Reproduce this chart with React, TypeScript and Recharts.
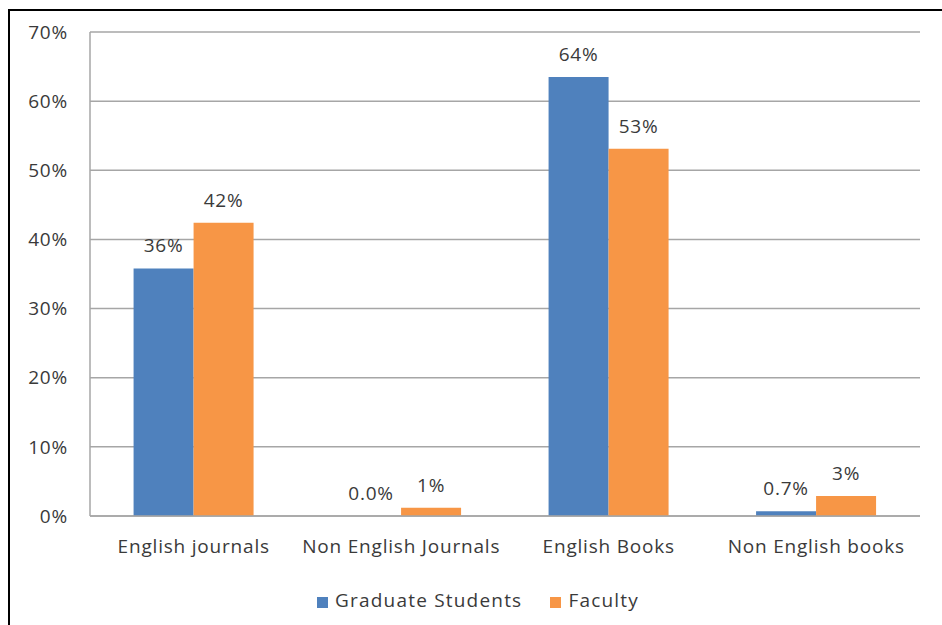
import React from 'react';
import { BarChart, Bar, XAxis, YAxis, CartesianGrid, Legend, LabelList } from 'recharts';

const categories = ['English journals', 'Non English Journals', 'English Books', 'Non English books'];
const graduateValues = [35.8, 0, 63.5, 0.7];
const facultyValues = [42.4, 1.2, 53.1, 2.9];
const graduateLabels = ['36%', '0.0%', '64%', '0.7%'];
const facultyLabels = ['42%', '1%', '53%', '3%'];
const yTicks = [0, 10, 20, 30, 40, 50, 60, 70];

const data = categories.map((name, i) => ({
  name,
  grad: graduateValues[i],
  faculty: facultyValues[i],
  gradLabel: graduateLabels[i],
  facultyLabel: facultyLabels[i],
}));

const FONT = '"Open Sans", sans-serif';
const TEXT = '#3a3a3a';
const FS = 19;
const LS = 0.8;

export default function App() {
  return (
    <div style={{ position: 'absolute', left: 0, top: 0, width: 942, height: 625, overflow: 'hidden', background: '#fff' }}>
      <div
        style={{
          position: 'absolute',
          left: 8,
          top: 9,
          width: 960,
          height: 640,
          borderTop: '2px solid #000',
          borderLeft: '2px solid #000',
        }}
      />
      <div style={{ position: 'absolute', left: 0, top: 0 }}>
        <BarChart
          width={942}
          height={625}
          data={data}
          margin={{ top: 32, right: 22, bottom: 12, left: 0 }}
          barCategoryGap="21%"
          barGap={0}
          style={{ fontFamily: FONT }}
        >
          <CartesianGrid vertical={false} stroke="#a6a6a6" strokeWidth={1.5} />
          <XAxis
            dataKey="name"
            height={73}
            tickLine={false}
            tickSize={0}
            tickMargin={24}
            axisLine={{ stroke: '#a6a6a6', strokeWidth: 1.5 }}
            tick={{ fill: TEXT, fontSize: FS, fontFamily: FONT, letterSpacing: LS }}
            interval={0}
          />
          <YAxis
            width={90}
            domain={[0, 70]}
            ticks={yTicks}
            tickFormatter={(v) => `${v}%`}
            tickLine={false}
            tickSize={0}
            tickMargin={22}
            axisLine={{ stroke: '#a6a6a6', strokeWidth: 1.5 }}
            tick={{ fill: TEXT, fontSize: FS, fontFamily: FONT, letterSpacing: LS }}
          />
          <Legend
            verticalAlign="bottom"
            align="center"
            iconType="square"
            iconSize={11}
            height={24}
            itemSorter={null}
            wrapperStyle={{ paddingLeft: 32, marginBottom: 2 }}
            formatter={(value) => (
              <span style={{ color: TEXT, fontSize: FS, fontFamily: FONT, letterSpacing: 1.2, marginRight: 18, marginLeft: 3 }}>
                {value}
              </span>
            )}
          />
          <Bar
            dataKey="grad"
            name="Graduate Students"
            fill="#4f81bd"
            minPointSize={(v: number) => (v === 0 ? 0.01 : 0)}
            isAnimationActive={false}
          >
            <LabelList
              dataKey="gradLabel"
              position="top"
              offset={16}
              fill={TEXT}
              fontSize={FS}
              fontFamily={FONT}
              style={{ letterSpacing: LS }}
            />
          </Bar>
          <Bar dataKey="faculty" name="Faculty" fill="#f79646" isAnimationActive={false}>
            <LabelList
              dataKey="facultyLabel"
              position="top"
              offset={16}
              fill={TEXT}
              fontSize={FS}
              fontFamily={FONT}
              style={{ letterSpacing: LS }}
            />
          </Bar>
        </BarChart>
      </div>
    </div>
  );
}
